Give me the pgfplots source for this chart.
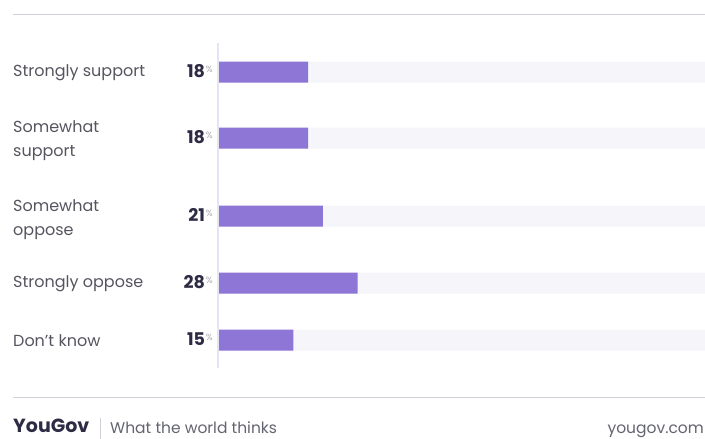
\documentclass[border=0pt]{standalone}
\usepackage{pgfplots}
\pgfplotsset{compat=1.18}
\usepackage{pgfplotstable}
\usepackage{fontspec}
\setmainfont{Poppins}
\definecolor{barpurple}{RGB}{142,118,214}
\definecolor{track}{RGB}{246,245,250}
\definecolor{rule}{RGB}{208,208,218}
\definecolor{vline}{RGB}{230,228,244}
\definecolor{labtext}{RGB}{85,85,95}
\definecolor{numtext}{RGB}{46,44,68}
\definecolor{pcttext}{RGB}{170,170,178}
\definecolor{foot}{RGB}{100,100,112}
\pgfplotstableread{
y val
72 18
138 18
216 21
283 28
340 15
}\data
\newcommand{\px}[1]{{(#1-219)/4.95}}
\begin{document}
\begin{tikzpicture}
\path[use as bounding box, clip] (0,0) rectangle (705pt,439pt);
\begin{axis}[
  at={(0,0)}, anchor=south west,
  scale only axis, width=705pt, height=439pt,
  xmin=-44.2424, xmax=98.1818,
  ymin=0, ymax=439, y dir=reverse,
  axis lines=none, clip=false,
  every node near coord/.style={anchor=east, xshift=-6pt, yshift=1pt, font=\fontsize{17.5}{19}\selectfont, text=numtext, inner sep=0pt},
]
% decorations
\draw[rule, line width=1pt] (axis cs:\px{13},14) -- (axis cs:\px{720},14);
\draw[rule, line width=1pt] (axis cs:\px{13},397) -- (axis cs:\px{720},397);
\draw[vline, line width=1.2pt] (axis cs:\px{218},43) -- (axis cs:\px{218},368);
% track
\addplot[xbar, bar width=21pt, fill=track, draw=none] table[x expr=100, y=y]{\data};
% bars
\addplot[xbar, bar width=21pt, fill=barpurple, draw=none] table[x=val, y=y]{\data};
% value labels
\addplot[only marks, mark=none, point meta=explicit,
  nodes near coords={\bfseries\pgfmathprintnumber[assume math mode=true]{\pgfplotspointmeta}\kern1pt\raisebox{5pt}{\fontsize{9}{9}\selectfont\mdseries\color{pcttext}\%}}]
  table[x expr=0, y=y, meta=val]{\data};
% category labels
\begin{scope}[every node/.style={anchor=west, inner sep=0pt, text=labtext, font=\fontsize{16}{24}\selectfont, align=left}]
\node at (axis cs:\px{13},73) {Strongly support};
\node at (axis cs:\px{13},141) {Somewhat\\support};
\node at (axis cs:\px{13},220) {Somewhat\\oppose};
\node at (axis cs:\px{13},284) {Strongly oppose};
\node at (axis cs:\px{13},341) {Don't know};
\end{scope}
% footer
\node[anchor=base west, inner sep=0pt, text=numtext, font=\fontsize{19}{19}\selectfont\bfseries] at (axis cs:\px{13},432) {YouGov};
\draw[rule, line width=0.8pt] (axis cs:\px{100},418) -- (axis cs:\px{100},439);
\node[anchor=base west, inner sep=0pt, text=foot, font=\fontsize{15.5}{16}\selectfont] at (axis cs:\px{110},433) {What the world thinks};
\node[anchor=base east, inner sep=0pt, text=foot, font=\fontsize{15.5}{16}\selectfont] at (axis cs:\px{704},433) {yougov.com};
\end{axis}
\end{tikzpicture}
\end{document}
